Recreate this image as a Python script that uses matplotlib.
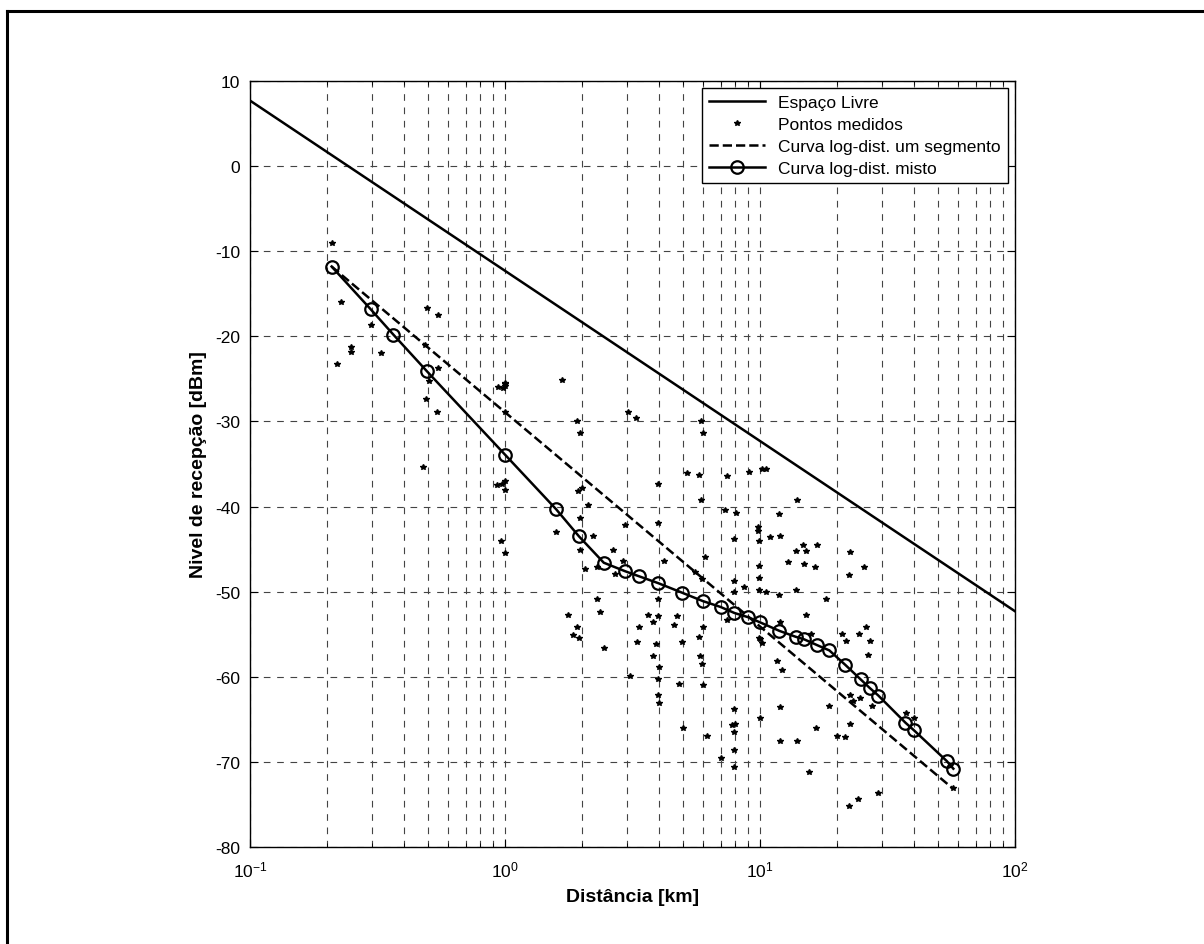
import matplotlib
matplotlib.use("Agg")
import matplotlib.pyplot as plt
from matplotlib.lines import Line2D
import numpy as np

plt.rcParams['font.family'] = ['Liberation Sans', 'DejaVu Sans']
plt.rcParams['axes.unicode_minus'] = False

# espaco livre
d_livre = [0.1, 1.0, 10.0, 100.0]
p_livre = [7.7, -12.3, -32.3, -52.3]

# curva log-dist. um segmento
d_seg = [0.209, 56.9]
p_seg = [-11.8, -73.1]

# curva log-dist. misto
d_misto = [0.209, 0.297, 0.365, 0.494, 1.0, 1.585, 1.95, 2.44, 2.96, 3.36, 3.99,
           4.93, 5.96, 7.01, 7.93, 8.98, 10.0, 11.9, 13.8, 14.9, 16.8, 18.7,
           21.6, 24.8, 26.9, 29.1, 37.2, 40.2, 54.0, 57.3]
p_misto = [-11.8, -16.8, -19.8, -24.1, -33.9, -40.3, -43.5, -46.6, -47.6, -48.2, -49.0,
           -50.1, -51.1, -51.8, -52.5, -53.0, -53.6, -54.6, -55.3, -55.6, -56.3, -56.9,
           -58.6, -60.3, -61.3, -62.2, -65.4, -66.3, -69.9, -70.8]

# pontos medidos
d_med = [0.209, 0.228, 0.248, 0.248, 0.219, 0.297, 0.327, 0.494, 0.546, 0.485,
         0.546, 0.505, 0.49, 0.54, 0.475, 0.936, 0.985, 1.0, 1.0, 1.0,
         1.0, 1.67, 1.92, 1.97, 3.05, 3.27, 5.85, 6.0, 0.927, 0.977,
         1.0, 1.94, 2.0, 2.12, 3.97, 5.19, 5.78, 7.45, 9.03, 10.2,
         10.6, 5.85, 7.29, 8.04, 11.9, 2.96, 3.97, 1.585, 1.97, 2.22,
         1.97, 0.962, 1.0, 2.64, 2.06, 2.29, 2.70, 2.91, 4.22, 6.08,
         9.85, 9.85, 9.93, 10.9, 7.9, 5.58, 5.9, 9.93, 9.93, 7.93,
         8.65, 7.9, 9.93, 10.6, 11.9, 2.29, 3.97, 2.36, 7.4, 1.77,
         1.92, 1.85, 1.95, 3.65, 3.79, 3.97, 3.36, 4.6, 4.71, 6.0,
         5.78, 4.93, 3.3, 3.91, 2.44, 9.93, 10.2, 14.0, 12.0, 13.8,
         14.7, 15.2, 16.8, 12.9, 14.9, 16.4, 22.5, 25.6, 22.4, 13.8,
         18.2, 15.2, 12.0, 20.9, 21.7, 24.5, 26.1, 27.0, 15.8, 3.82,
         4.03, 5.8, 5.9, 3.08, 3.99, 4.82, 6.0, 3.99, 4.03, 5.0,
         6.21, 7.01, 7.93, 7.8, 8.0, 7.93, 7.93, 7.93, 10.0, 12.0,
         12.0, 11.7, 12.2, 14.0, 15.5, 16.6, 18.7, 20.1, 21.5, 22.5,
         22.5, 24.7, 23.2, 26.6, 27.4, 22.4, 24.2, 29.1, 37.4, 40.2,
         56.9, 1.0, 10.0]
p_med = [-9.0, -16.0, -21.2, -21.8, -23.3, -18.7, -21.9, -16.7, -17.5, -21.0,
         -23.7, -25.2, -27.4, -28.9, -35.4, -26.0, -26.1, -25.6, -28.9, -25.8,
         -25.5, -25.1, -29.9, -31.4, -28.9, -29.6, -30.0, -31.4, -37.5, -37.3,
         -38.1, -38.2, -37.8, -39.8, -37.4, -36.1, -36.3, -36.4, -35.9, -35.6,
         -35.6, -39.2, -40.4, -40.8, -40.9, -42.2, -41.9, -43.0, -41.3, -43.5,
         -45.1, -44.0, -45.4, -45.1, -47.3, -47.1, -47.9, -46.4, -46.4, -45.9,
         -42.4, -42.9, -44.1, -43.6, -43.8, -47.7, -48.5, -47.0, -48.4, -48.8,
         -49.5, -50.0, -49.8, -50.0, -50.4, -50.9, -50.9, -52.4, -53.3, -52.8,
         -54.1, -55.1, -55.5, -52.8, -53.6, -52.9, -54.1, -53.9, -52.9, -54.1,
         -55.3, -55.9, -55.9, -56.1, -56.6, -55.5, -56.0, -39.2, -43.5, -45.2,
         -44.5, -45.2, -44.5, -46.5, -46.8, -47.1, -45.3, -47.1, -48.1, -49.8,
         -50.9, -52.7, -53.6, -55.0, -55.8, -55.0, -54.2, -55.8, -55.0, -57.6,
         -58.8, -57.6, -58.5, -59.9, -60.3, -60.8, -61.0, -62.1, -63.1, -66.0,
         -66.9, -69.6, -63.8, -65.7, -65.6, -66.5, -68.6, -70.6, -64.8, -63.5,
         -67.5, -58.1, -59.2, -67.5, -71.2, -66.0, -63.4, -66.9, -67.1, -62.1,
         -65.5, -62.5, -62.9, -57.4, -63.4, -75.2, -74.4, -73.6, -64.2, -64.8,
         -73.1, -37.0, -55.6]

fig = plt.figure(figsize=(12.04, 9.45), dpi=100)
ax = fig.add_axes([250/1204, 1-848/945, 765/1204, 766/945])

ax.semilogx(d_livre, p_livre, 'k-', lw=1.8, label='Espaço Livre')
ax.semilogx(d_med, p_med, 'k*', ms=4, label='Pontos medidos')
ax.semilogx(d_seg, p_seg, 'k--', lw=1.8, label='Curva log-dist. um segmento')
ax.semilogx(d_misto, p_misto, 'k-o', lw=1.8, ms=9, mfc='none', mew=1.6,
            label='Curva log-dist. misto')

ax.set_xlim(0.1, 100)
ax.set_ylim(-80, 10)
ax.set_yticks(np.arange(-80, 11, 10))
ax.grid(True, which='major', ls=(0, (6, 6)), color='#444444', lw=0.8)
ax.grid(True, which='minor', axis='x', ls=(0, (6, 6)), color='#444444', lw=0.8)
ax.tick_params(which='both', direction='in', top=True, right=True, labelsize=12.5)
ax.tick_params(which='major', length=6)
ax.tick_params(which='minor', length=3)
ax.tick_params(axis='x', pad=9)
ax.tick_params(axis='y', pad=7)
for s in ax.spines.values():
    s.set_linewidth(1.0)

ax.set_xlabel('Distância [km]', fontsize=14, fontweight='bold', labelpad=6)
ax.set_ylabel('Nivel de recepção [dBm]', fontsize=14, fontweight='bold', labelpad=6)

leg = ax.legend(loc='upper right', fontsize=12.5, fancybox=False, framealpha=1,
                edgecolor='k', borderaxespad=0.4, handlelength=3.2,
                labelspacing=0.4)
leg.get_frame().set_linewidth(1.0)

# moldura da figura
fig.add_artist(Line2D([7/1204, 7/1204], [0, 1-12/945], color='k', lw=2.2))
fig.add_artist(Line2D([7/1204, 1], [1-12/945, 1-12/945], color='k', lw=2.2))

fig.savefig('out.png', dpi=100)
